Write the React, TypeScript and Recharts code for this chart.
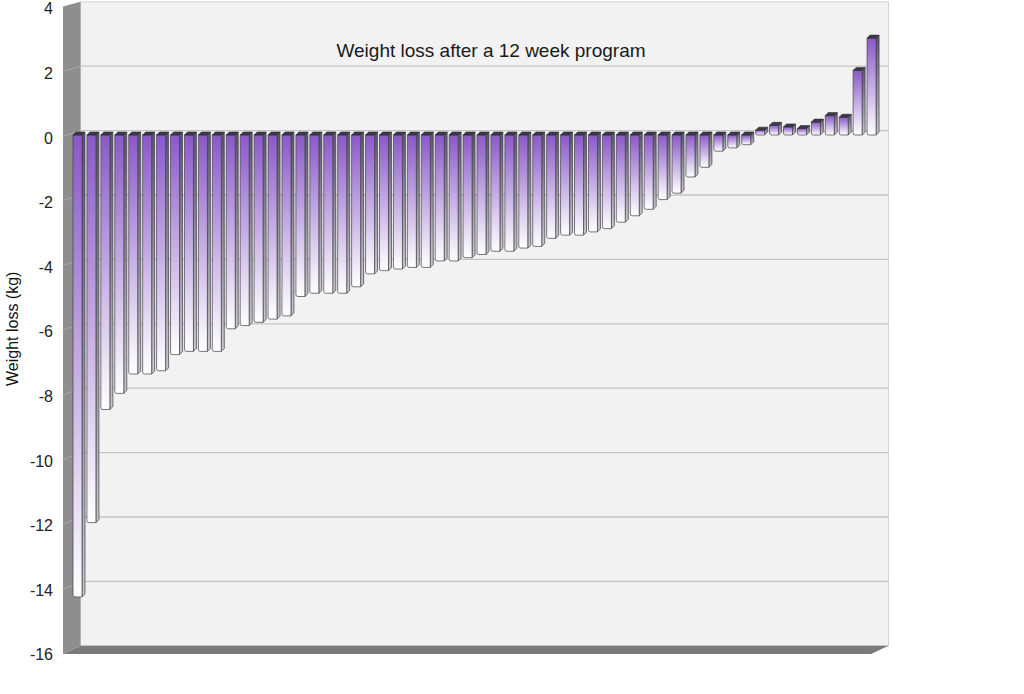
import { BarChart, Bar, XAxis, YAxis, CartesianGrid, Label } from 'recharts';

// weight change per participant (kg), sorted from largest loss to gain
const lossValues = [
  -14.3, -12.0, -8.5, -8.0, -7.4, -7.4, -7.3, -6.8, -6.7, -6.7,
  -6.7, -6.0, -5.9, -5.8, -5.7, -5.6, -5.0, -4.9, -4.9, -4.9,
  -4.7, -4.3, -4.2, -4.15, -4.1, -4.1, -3.9, -3.9, -3.8, -3.7,
  -3.6, -3.6, -3.5, -3.45, -3.2, -3.1, -3.1, -3.0, -2.9, -2.7,
  -2.5, -2.3, -2.0, -1.8, -1.3, -1.0, -0.5, -0.4, -0.3, 0.15,
  0.3, 0.25, 0.2, 0.4, 0.6, 0.55, 2.0, 3.0,
];
const participants = lossValues.map((_, i) => `P${i + 1}`);
const yTicks = [-16, -14, -12, -10, -8, -6, -4, -2, 0, 2, 4];
const chartTitle = 'Weight loss after a 12 week program';
const axisTitle = 'Weight loss (kg)';

const data = participants.map((p, i) => ({ participant: p, loss: lossValues[i] }));

const FONT = '"Liberation Sans", Arial, sans-serif';

// depth offsets of the fake 3d box relative to the plot area
const FRONT_DX = -9;
const BACK_DX = 8.5;
const frontDy = (t: number) => 0.6 + 1.6 * t;
const backDy = (t: number) => -4 - 2 * t;

const renderGridLine = (p: any) => {
  const x = p.x ?? p.x1;
  const width = p.width ?? p.x2 - p.x1;
  const top = p.y;
  const height = p.height;
  const L = x;
  const R = x + width;
  const B = top + height;
  const first = p.index === 0 || p.key === 'line-0';
  const t = (p.y1 - top) / height;
  const yf = p.y1 + frontDy(t);
  const yb = p.y1 + backDy(t);
  const edge = t < 0.005 || t > 0.995;

  return (
    <g key={p.key}>
      {first && (
        <g>
          <defs>
            <linearGradient id="barFront" x1="0" y1="0" x2="0" y2="1">
              <stop offset="0%" stopColor="#8a59c8" />
              <stop offset="100%" stopColor="#ffffff" />
            </linearGradient>
            <linearGradient id="barSide" x1="0" y1="0" x2="0" y2="1">
              <stop offset="0%" stopColor="#5c5170" />
              <stop offset="100%" stopColor="#c8c8cd" />
            </linearGradient>
          </defs>
          {/* back wall */}
          <rect
            x={L + BACK_DX}
            y={top + backDy(0)}
            width={width}
            height={B + backDy(1) - (top + backDy(0))}
            fill="#f2f2f2"
            stroke="#d4d4d4"
            strokeWidth={1}
          />
          {/* side wall */}
          <polygon
            points={`${L + FRONT_DX},${top + frontDy(0)} ${L + BACK_DX},${top + backDy(0)} ${L + BACK_DX},${B + backDy(1)} ${L + FRONT_DX},${B + frontDy(1)}`}
            fill="#8e8e8e"
          />
          {/* floor */}
          <polygon
            points={`${L + FRONT_DX},${B + frontDy(1)} ${L + BACK_DX},${B + backDy(1)} ${R + BACK_DX},${B + backDy(1)} ${R + FRONT_DX},${B + frontDy(1)}`}
            fill="#7a7a7a"
          />
          <text
            x={(L + R) / 2 + BACK_DX + 6.5}
            y={top + 51}
            textAnchor="middle"
            fontFamily={FONT}
            fontSize={19}
            fill="#1a1a1a"
          >
            {chartTitle}
          </text>
        </g>
      )}
      {!edge && (
        <g>
          <line x1={L + FRONT_DX} y1={yf} x2={L + BACK_DX} y2={yb} stroke="#a9a9a9" strokeWidth={1} />
          <line x1={L + BACK_DX} y1={yb} x2={R + BACK_DX} y2={yb} stroke="#c4c4c4" strokeWidth={1.3} />
        </g>
      )}
    </g>
  );
};

const BarShape = (props: any) => {
  const { x, y, width, height } = props;
  if (x == null || y == null) return null;
  const top = Math.min(y, y + height);
  const bot = Math.max(y, y + height);
  const d = 3;
  const fw = width - d;
  const front = `M${x},${top} L${x + fw},${top} L${x + fw},${bot} L${x + 2},${bot} Q${x},${bot} ${x},${bot - 2} Z`;
  const side = `M${x + fw},${top} L${x + width},${top - d} L${x + width},${bot - d} L${x + fw},${bot} Z`;
  const cap = `M${x},${top} L${x + d},${top - d} L${x + width},${top - d} L${x + fw},${top} Z`;
  return (
    <g>
      <path d={side} fill="url(#barSide)" stroke="#3f3f46" strokeWidth={0.7} />
      <path d={front} fill="url(#barFront)" stroke="#3f3f46" strokeWidth={0.7} />
      <path d={cap} fill="#3b3848" stroke="#2e2c38" strokeWidth={0.6} />
    </g>
  );
};

const YTick = (props: any) => {
  const { x, y, payload } = props;
  return (
    <text x={x} y={y + 3} dy="0.355em" textAnchor="end" fontFamily={FONT} fontSize={16} fill="#222">
      {payload.value}
    </text>
  );
};

const AxisTitle = (props: any) => {
  const vb = props.viewBox || { x: 0, y: 5.8, width: 72, height: 646 };
  const cx = vb.x + 18.5;
  const cy = vb.y + vb.height / 2;
  return (
    <text
      x={cx}
      y={cy}
      transform={`rotate(-90, ${cx}, ${cy})`}
      textAnchor="middle"
      fontFamily={FONT}
      fontSize={16}
      fill="#111"
    >
      {axisTitle}
    </text>
  );
};

export default function App() {
  return (
    <div style={{ position: 'absolute', left: 0, top: 0, width: 1024, height: 694, background: '#fff' }}>
      <BarChart
        width={1024}
        height={694}
        data={data}
        margin={{ top: 5.8, right: 144, bottom: 42.2, left: 0 }}
      >
        <CartesianGrid vertical={false} horizontal={renderGridLine} />
        <XAxis dataKey="participant" hide />
        <YAxis
          width={72}
          domain={[-16, 4]}
          ticks={yTicks}
          interval={0}
          axisLine={false}
          tickLine={false}
          tickSize={0}
          tickMargin={19}
          tick={<YTick />}
        >
          <Label content={<AxisTitle />} />
        </YAxis>
        <Bar dataKey="loss" barSize={12} isAnimationActive={false} shape={<BarShape />} />
      </BarChart>
    </div>
  );
}
